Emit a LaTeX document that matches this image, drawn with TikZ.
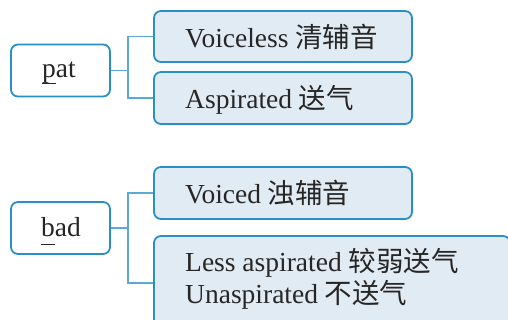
\documentclass[tikz,border=0pt]{standalone}
\usepackage{fontspec}
\setmainfont{Liberation Serif}
\newfontfamily\cjk{Noto Sans CJK SC}
\newcommand\ulchar[2]{\setbox0\hbox{#2}\rlap{\rule[-#1]{\wd0}{1.4pt}}\box0}
\definecolor{bordc}{HTML}{2A8FC6}
\definecolor{fillc}{HTML}{E1EBF4}
\definecolor{linec}{HTML}{5AAAD4}
\tikzset{
  x=1pt, y=-1pt,
  every node/.style={font=\fontsize{27.5}{33}\selectfont, text=black!85},
  wordbox/.style={draw=bordc, line width=1.8pt, rounded corners=7pt, fill=white,
    minimum width=99pt, minimum height=52pt, inner sep=0pt},
  catbox/.style={draw=bordc, line width=1.8pt, rounded corners=7pt, fill=fillc,
    minimum width=258pt, minimum height=51pt, inner sep=0pt},
  txt/.style={anchor=base west, inner sep=0pt},
  conn/.style={draw=linec, line width=1.6pt}
}
\begin{document}
\begin{tikzpicture}
\useasboundingbox (0,0) rectangle (508,320);
\clip (0,0) rectangle (508,320);
% pat group
\node[wordbox] (pat) at (60.5,70.5) {};
\node[txt] (pattxt) at (42,77.5) {\ulchar{6.5pt}{p}at};
\node[catbox] (vl) at (283,36.5) {};
\node[txt] (vltxt) at (185,47.5) {Voiceless {\cjk 清辅音}};
\node[catbox, minimum height=52pt] (asp) at (283,98) {};
\node[txt] (asptxt) at (185,109) {Aspirated {\cjk 送气}};
\draw[conn] (pat.east) -- (128,70.5) coordinate (j1);
\draw[conn] (vl.west) -| (j1) |- (asp.west);
% bad group
\node[wordbox] (bad) at (60.5,228) {};
\node[txt] (badtxt) at (41,236.5) {\ulchar{9pt}{b}ad};
\node[catbox, minimum height=52pt] (vd) at (283,193) {};
\node[txt] (vdtxt) at (185,204) {Voiced {\cjk 浊辅音}};
\node[catbox, minimum width=356pt, minimum height=104pt] (less) at (332,288) {};
\node[txt] (lesstxt1) at (185,271.5) {Less aspirated {\cjk 较弱送气}};
\node[txt] (lesstxt2) at (185,303.5) {Unaspirated {\cjk 不送气}};
\coordinate (lessin) at (less.west |- 0,283);
\draw[conn] (bad.east) -- (128,228) coordinate (j2);
\draw[conn] (vd.west) -| (j2) |- (lessin);
\end{tikzpicture}
\end{document}
